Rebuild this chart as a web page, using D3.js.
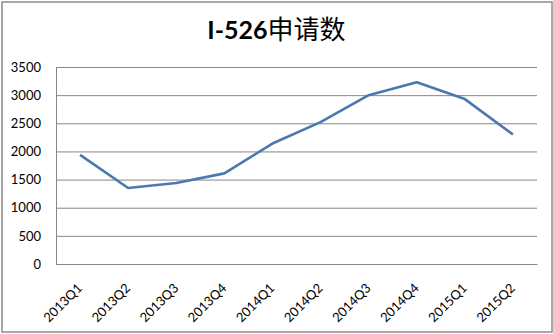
<!DOCTYPE html>
<html>
<head>
<meta charset="utf-8">
<script src="https://cdn.jsdelivr.net/npm/d3@7"></script>
<style>
  html, body { margin: 0; padding: 0; background: #fff; }
  svg { display: block; }
</style>
</head>
<body>
<svg id="chart" width="553" height="334"></svg>
<script>
// I-526 申请数, quarterly
const quarters = ['2013Q1', '2013Q2', '2013Q3', '2013Q4', '2014Q1', '2014Q2', '2014Q3', '2014Q4', '2015Q1', '2015Q2'];
const applications = [1940, 1350, 1440, 1610, 2140, 2520, 3000, 3230, 2930, 2300];
const yTicks = [0, 500, 1000, 1500, 2000, 2500, 3000, 3500];

const svg = d3.select('#chart');
const W = 553, H = 334;
const m = { left: 56, right: 16, top: 67, bottom: 70 };

// outer frame
svg.append('rect')
  .attr('x', 2).attr('y', 2).attr('width', W - 3).attr('height', H - 4)
  .attr('fill', '#fff').attr('stroke', '#8c8c8c').attr('stroke-width', 1.5);

const x = d3.scaleBand().domain(quarters).range([m.left, W - m.right]);
const y = d3.scaleLinear().domain([0, 3500]).range([H - m.bottom, m.top]);

// gridlines + y labels
const yAxis = d3.axisLeft(y).tickValues(yTicks).tickFormat(d3.format('d'))
  .tickSize(-(W - m.left - m.right)).tickPadding(15);
const gy = svg.append('g').attr('transform', `translate(${m.left},0)`).call(yAxis);
gy.select('.domain').attr('stroke', '#868686');
gy.selectAll('.tick line').attr('stroke', '#868686').attr('stroke-width', 1);
gy.selectAll('.tick text')
  .attr('font-family', 'Lato, "Open Sans", sans-serif').attr('font-size', 13).attr('fill', '#000');

// x axis
const gx = svg.append('g').attr('transform', `translate(0,${H - m.bottom})`)
  .call(d3.axisBottom(x).tickSize(0).tickPadding(0));
gx.select('.domain').attr('stroke', '#868686');
gx.selectAll('.tick text')
  .attr('font-family', 'Lato, "Open Sans", sans-serif').attr('font-size', 13).attr('fill', '#000')
  .attr('text-anchor', 'end')
  .attr('dy', 0)
  .attr('transform', 'translate(3,25) rotate(-45)');

// line
const line = d3.line()
  .x((d, i) => x(quarters[i]) + x.bandwidth() / 2)
  .y(d => y(d));
svg.append('path')
  .datum(applications)
  .attr('d', line)
  .attr('fill', 'none')
  .attr('stroke', '#4a78b0')
  .attr('stroke-width', 2.6)
  .attr('stroke-linejoin', 'round');

// title
const title = svg.append('text')
  .attr('x', W / 2).attr('y', 39)
  .attr('text-anchor', 'middle').attr('fill', '#000');
title.append('tspan')
  .attr('font-family', 'Lato, "Open Sans", sans-serif').attr('font-weight', 700).attr('font-size', 25)
  .text('I-526');
title.append('tspan')
  .attr('font-family', '"Noto Sans CJK SC", sans-serif').attr('font-weight', 400).attr('font-size', 26)
  .text('申请数');
</script>
</body>
</html>
